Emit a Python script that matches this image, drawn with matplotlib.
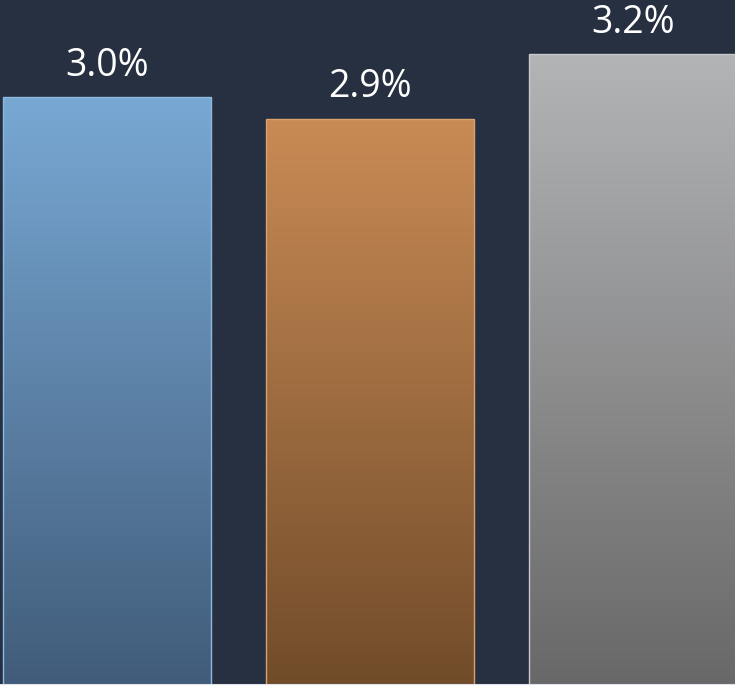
import numpy as np
import matplotlib
matplotlib.use("Agg")
import matplotlib.pyplot as plt
from matplotlib.colors import LinearSegmentedColormap

# Data
categories = ["A", "B", "C"]
values = [3.0, 2.9, 3.2]
labels = ["3.0%", "2.9%", "3.2%"]

# Styling
bg = "#263040"
top_colors = ["#78a8d4", "#c98b55", "#b3b4b6"]
bottom_colors = ["#415c7a", "#714c2a", "#686868"]
edge_colors = ["#8fb8e0", "#dca06a", "#c8c9cc"]

plt.rcParams["font.family"] = ["Open Sans", "DejaVu Sans"]

fig = plt.figure(figsize=(7.35, 6.85), dpi=100, facecolor=bg)
ax = fig.add_axes([0, 0, 1, 1], facecolor=bg)

ymin, ymax = 0.267, 3.453
x = np.arange(len(values))
width = 0.791

bars = ax.bar(x, values, width=width, color="none", zorder=2)
grad = np.linspace(0, 1, 256).reshape(-1, 1)
for i, b in enumerate(bars):
    cmap = LinearSegmentedColormap.from_list(f"g{i}", [bottom_colors[i], top_colors[i]])
    x0 = b.get_x()
    x1 = x0 + b.get_width()
    im = ax.imshow(grad, cmap=cmap, origin="lower", aspect="auto",
                   extent=[x0, x1, ymin, b.get_height()], zorder=1,
                   interpolation="bilinear")
    im.set_clip_path(b)
    b.set_edgecolor(edge_colors[i])
    b.set_linewidth(1.0)
    ax.annotate(labels[i], (b.get_x() + b.get_width() / 2, b.get_height()),
                xytext=(0, 9), textcoords="offset points",
                ha="center", va="bottom", color="white", fontsize=27)

ax.axhline(ymin, color="#dde3ea", linewidth=1.5, zorder=3)

ax.set_xlim(-0.4068, 2.388)
ax.set_ylim(ymin, ymax)
ax.axis("off")

fig.savefig("out.png", dpi=100, facecolor=bg)
